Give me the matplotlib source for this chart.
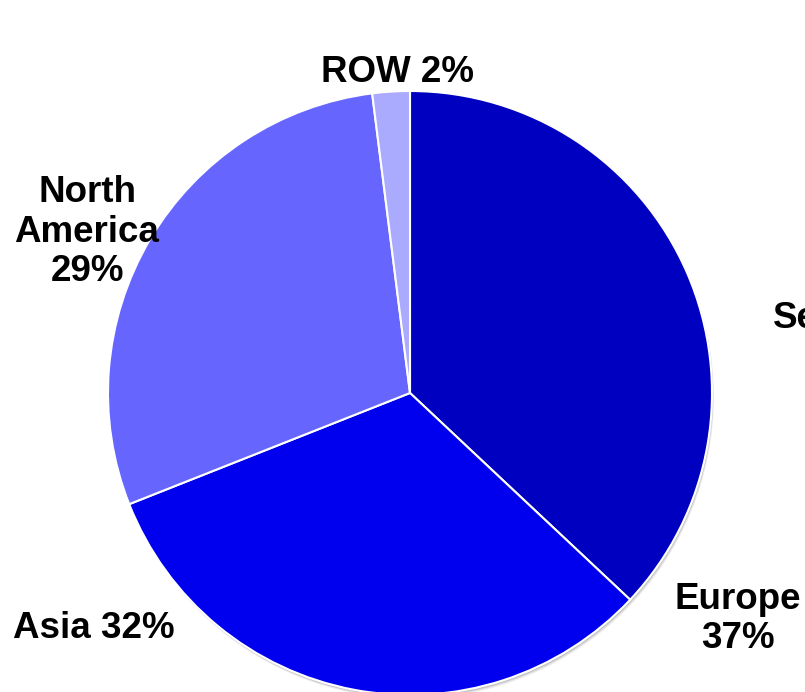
import matplotlib.pyplot as plt
from matplotlib.patches import Circle

plt.rcParams["font.family"] = ["Liberation Sans", "DejaVu Sans"]

# Share by region, clockwise from 12 o'clock
regions = ["Europe", "Asia", "North America", "ROW"]
shares = [37, 32, 29, 2]
colors = ["#0000C0", "#0000EE", "#6666FF", "#AAAAFF"]

W, H = 805, 692
fig = plt.figure(figsize=(W / 100, H / 100), dpi=100)
ax = fig.add_axes([0, 0, 1, 1])

cx, cy, r = 410, H - 393, 302

# soft shadow under the disc
for k, a in [(4, 0.06), (3, 0.08), (2, 0.12)]:
    ax.add_patch(Circle((cx + k * 0.5, cy - k), r, color="black", alpha=a,
                        lw=0, zorder=0))

ax.pie(shares, colors=colors, startangle=90, counterclock=False,
       center=(cx, cy), radius=r, frame=True,
       wedgeprops=dict(edgecolor="white", linewidth=1.5))
ax.set_xlim(0, W)
ax.set_ylim(0, H)
ax.set_aspect("equal")
ax.axis("off")

lab = dict(fontsize=26.5, fontweight="bold", ha="center", va="center",
           linespacing=1.15)
ax.text(738, H - 619, f"Europe\n{shares[0]}%", **lab)
ax.text(94, H - 628, f"{regions[1]} {shares[1]}%", **lab)
ax.text(87, H - 232, f"North\nAmerica\n{shares[2]}%", **lab)
ax.text(397, H - 73, f"{regions[3]} {shares[3]}%", **lab)
ax.text(773, H - 318, "Se", fontsize=26.5, fontweight="bold", ha="left",
        va="center")

fig.savefig("out.png", dpi=100)
